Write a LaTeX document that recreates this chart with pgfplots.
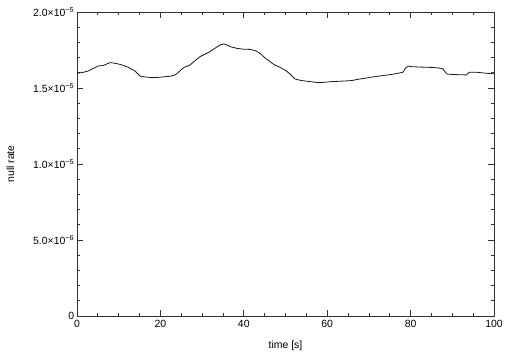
\documentclass[border=0pt]{standalone}
\usepackage{fontspec}
\setmainfont{Liberation Sans}
\usepackage{pgfplots}
\pgfplotsset{compat=1.18}
\begin{document}
\begin{tikzpicture}
\fontsize{10.5}{12}\selectfont
\begin{axis}[
  scale only axis,
  width=417bp, height=304bp,
  xmin=0, xmax=100, ymin=0, ymax=2e-5,
  xtick={0,20,40,60,80,100},
  minor x tick num=3,
  ytick={0,5e-6,1e-5,1.5e-5,2e-5},
  minor y tick num=4,
  scaled y ticks=false,
  yticklabels={0,5.0×10\textsuperscript{−6},1.0×10\textsuperscript{−5},1.5×10\textsuperscript{−5},2.0×10\textsuperscript{−5}},
  /pgf/number format/assume math mode=true,
  tick align=inside,
  major tick length=6bp, minor tick length=3.5bp,
  axis line style={draw=black!80, line width=0.9bp},
  every tick/.style={draw=black!80, line width=0.7bp},
  tick label style={font=\fontsize{10.5}{12}\selectfont},
  yticklabel style={xshift=1bp},
  xticklabel style={yshift=-1bp},
  xlabel={time [s]},
  ylabel={null rate},
  label style={font=\fontsize{10.5}{12}\selectfont},
  xlabel style={at={(axis description cs:0.5,0)}, anchor=north, yshift=-21bp},
  ylabel style={at={(axis description cs:0,0.5)}, anchor=south, yshift=59bp},
]
\addplot[black!90, line width=0.8bp] coordinates {
(0,1.597e-5) (1.5,1.603e-5) (2.7,1.612e-5) (4,1.630e-5) (5.1,1.645e-5)
(6.3,1.648e-5) (7.9,1.667e-5) (9.0,1.663e-5) (9.9,1.658e-5) (11,1.650e-5)
(12.3,1.636e-5) (13.9,1.612e-5) (15.1,1.579e-5) (16,1.574e-5) (17.9,1.568e-5)
(19.5,1.570e-5) (21.1,1.574e-5) (22.5,1.578e-5) (23.5,1.586e-5) (24.2,1.600e-5)
(24.9,1.618e-5) (25.7,1.636e-5) (27.1,1.651e-5) (28.3,1.680e-5) (29.5,1.706e-5)
(31.9,1.739e-5) (33,1.760e-5) (34.3,1.783e-5) (35.2,1.790e-5) (35.9,1.783e-5)
(37,1.770e-5) (38.3,1.761e-5) (40,1.755e-5) (41.5,1.754e-5) (42.8,1.745e-5)
(43.9,1.728e-5) (45,1.700e-5) (46.3,1.673e-5) (47.5,1.650e-5) (48.7,1.636e-5)
(50,1.615e-5) (50.9,1.597e-5) (52.3,1.559e-5) (53.5,1.551e-5) (54.7,1.546e-5)
(56,1.542e-5) (57.9,1.535e-5) (59.5,1.538e-5) (61.1,1.542e-5) (63.5,1.545e-5)
(65.9,1.549e-5) (67.5,1.558e-5) (69.1,1.564e-5) (70.7,1.572e-5) (72.3,1.578e-5)
(74,1.584e-5) (75.8,1.591e-5) (77,1.597e-5) (78.2,1.604e-5) (78.5,1.620e-5)
(78.9,1.635e-5) (79.5,1.645e-5) (79.9,1.641e-5) (82,1.638e-5) (85.4,1.635e-5)
(87.2,1.630e-5) (87.8,1.625e-5) (88.3,1.605e-5) (88.8,1.591e-5) (91,1.588e-5)
(93.4,1.586e-5) (93.8,1.598e-5) (94.2,1.604e-5) (96,1.603e-5) (98.2,1.597e-5)
(100,1.593e-5)
};
\end{axis}
\pgfresetboundingbox
\path ([shift={(-77bp,-42bp)}]current axis.south west) rectangle ([shift={(23bp,12bp)}]current axis.north east);
\end{tikzpicture}
\end{document}
